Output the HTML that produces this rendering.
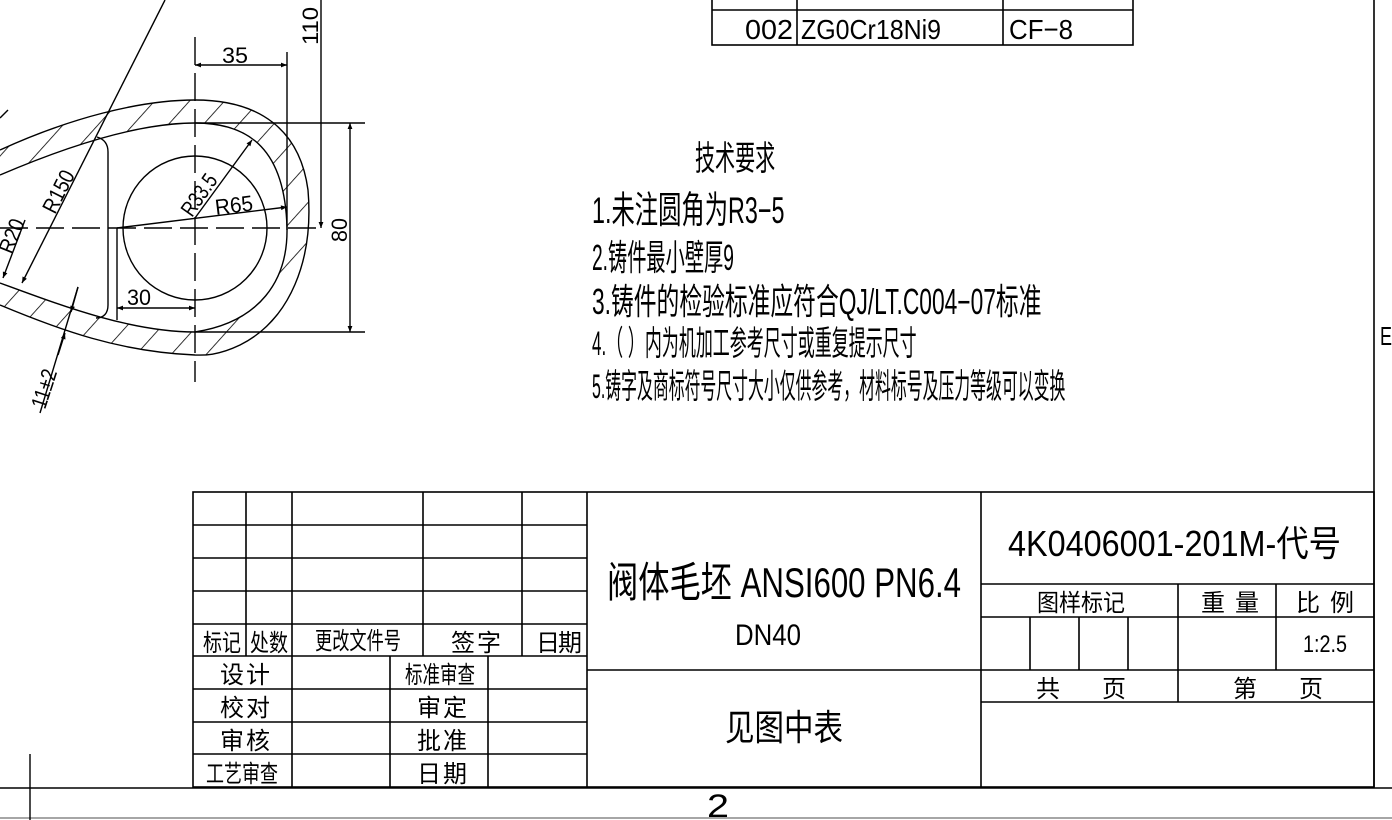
<!DOCTYPE html>
<html><head><meta charset="utf-8"><style>
html,body{margin:0;padding:0;background:#fff;}
svg{display:block;}
text{font-family:"Liberation Sans","Noto Sans CJK SC",sans-serif;fill:#000;}
</style></head><body>
<svg width="1392" height="820" viewBox="0 0 1392 820" xmlns="http://www.w3.org/2000/svg">
<defs>
<pattern id="h" patternUnits="userSpaceOnUse" width="26" height="26" patternTransform="rotate(42)">
<line x1="0" y1="0" x2="0" y2="26" stroke="#000" stroke-width="1.6"/>
</pattern>
<marker id="a" viewBox="0 0 10 10" refX="10" refY="5" markerWidth="14" markerHeight="6" orient="auto-start-reverse" markerUnits="userSpaceOnUse"><path d="M0,1 L10,5 L0,9 z" fill="#000"/></marker>
</defs>
<g fill="none" stroke="#000" stroke-width="1.4">
<path fill="url(#h)" fill-rule="evenodd" stroke="none" d="M0,150 C70,118 140,100 195,100 C260,100 300,130 308,190 C314,260 290,320 240,345 C215,357 200,355 195,355 C120,352 60,330 0,305 Z M0,175 C70,145 140,123 195,123 C250,123 285,150 287,228 C288,280 260,322 195,332 C130,332 60,305 0,283 Z"/>
<path d="M0,150 C70,118 140,100 195,100 C260,100 300,130 308,190 C314,260 290,320 240,345 C215,357 200,355 195,355 C120,352 60,330 0,305"/>
<path d="M0,175 C70,145 140,123 195,123 C250,123 285,150 287,228 C288,280 260,322 195,332 C130,332 60,305 0,283"/>
<path d="M97,137 C104,139 108,144 108,152 L108,305 C108,313 104,318 96,318"/>
<circle cx="195" cy="228" r="72"/>
<line x1="195" y1="37" x2="195" y2="382" stroke-dasharray="28,8"/>
<line x1="0" y1="228" x2="320" y2="228" stroke-dasharray="28,8"/>
<line x1="287" y1="52" x2="287" y2="230"/>
<line x1="195" y1="65" x2="287" y2="65" marker-start="url(#a)" marker-end="url(#a)"/>
<line x1="321" y1="0" x2="321" y2="228" marker-end="url(#a)"/>
<line x1="195" y1="123" x2="365" y2="123"/>
<line x1="195" y1="332" x2="365" y2="332"/>
<line x1="350" y1="123" x2="350" y2="332" marker-start="url(#a)" marker-end="url(#a)"/>
<line x1="117" y1="228" x2="117" y2="320"/>
<line x1="117" y1="308" x2="195" y2="308" marker-start="url(#a)" marker-end="url(#a)"/>
<line x1="117" y1="228" x2="287" y2="207" marker-end="url(#a)"/>
<line x1="195" y1="218" x2="252" y2="140" marker-end="url(#a)"/>
<line x1="165" y1="0" x2="22" y2="283" marker-end="url(#a)"/>
<line x1="25" y1="220" x2="3" y2="278" marker-end="url(#a)"/>
<line x1="8" y1="110" x2="0" y2="118"/>
<line x1="78" y1="287" x2="40" y2="413"/>
<line x1="78" y1="287" x2="71" y2="312" marker-end="url(#a)"/>
<line x1="58" y1="355" x2="65" y2="333" marker-end="url(#a)"/>
</g>
<g font-size="22">
<text x="222" y="63" textLength="26" lengthAdjust="spacingAndGlyphs">35</text>
<text x="127" y="305" textLength="24" lengthAdjust="spacingAndGlyphs">30</text>
<text transform="translate(318,45) rotate(-90)" textLength="38" lengthAdjust="spacingAndGlyphs">110</text>
<text transform="translate(347,242) rotate(-90)" textLength="24" lengthAdjust="spacingAndGlyphs">80</text>
<text transform="translate(216,215) rotate(-7)" textLength="38" lengthAdjust="spacingAndGlyphs">R65</text>
<text transform="translate(192,218) rotate(-55)" textLength="46" lengthAdjust="spacingAndGlyphs">R33.5</text>
<text transform="translate(55,215) rotate(-63)" textLength="45" lengthAdjust="spacingAndGlyphs">R150</text>
<text transform="translate(12,255) rotate(-68)" textLength="35" lengthAdjust="spacingAndGlyphs">R20</text>
<text transform="translate(45,410) rotate(-72)" textLength="40" lengthAdjust="spacingAndGlyphs">11±2</text>
</g>
<g fill="none" stroke="#000" stroke-width="1.6">
<rect x="712" y="-5" width="421" height="50"/>
<line x1="712" y1="10" x2="1133" y2="10"/>
<line x1="797" y1="-5" x2="797" y2="45"/>
<line x1="1003" y1="-5" x2="1003" y2="45"/>
</g>
<g font-size="28">
<text x="745" y="39" textLength="48" lengthAdjust="spacingAndGlyphs">002</text>
<text x="801" y="39" textLength="140" lengthAdjust="spacingAndGlyphs">ZG0Cr18Ni9</text>
<text x="1009" y="39" textLength="64" lengthAdjust="spacingAndGlyphs">CF−8</text>
</g>
<g font-size="34">
<text transform="translate(695,170) scale(0.59,1)">技术要求</text>
<text transform="translate(592,223) scale(0.686,1.1)">1.未注圆角为R3−5</text>
<text transform="translate(592,270) scale(0.565,1.05)">2.铸件最小壁厚9</text>
<text transform="translate(592,314) scale(0.67,1.05)">3.铸件的检验标准应符合QJ/LT.C004−07标准</text>
<text transform="translate(592,355) scale(0.5,1)">4.（ ）内为机加工参考尺寸或重复提示尺寸</text>
<text transform="translate(592,398) scale(0.467,1)">5.铸字及商标符号尺寸大小仅供参考，材料标号及压力等级可以变换</text>
</g>
<line x1="1374" y1="0" x2="1374" y2="787" stroke="#000" stroke-width="1.6"/>
<text x="1380" y="345" font-size="26" textLength="12" lengthAdjust="spacingAndGlyphs">E</text>
<g fill="none" stroke="#000" stroke-width="1.6">
<rect x="193" y="492" width="1181" height="295"/>
<line x1="193" y1="525" x2="587" y2="525"/>
<line x1="193" y1="558" x2="587" y2="558"/>
<line x1="193" y1="591" x2="587" y2="591"/>
<line x1="193" y1="624" x2="587" y2="624"/>
<line x1="193" y1="656" x2="587" y2="656"/>
<line x1="193" y1="689" x2="587" y2="689"/>
<line x1="193" y1="722" x2="587" y2="722"/>
<line x1="193" y1="754" x2="587" y2="754"/>
<line x1="246" y1="492" x2="246" y2="656"/>
<line x1="292" y1="492" x2="292" y2="787"/>
<line x1="423" y1="492" x2="423" y2="656"/>
<line x1="522" y1="492" x2="522" y2="656"/>
<line x1="390" y1="656" x2="390" y2="787"/>
<line x1="488" y1="656" x2="488" y2="787"/>
<line x1="587" y1="492" x2="587" y2="787"/>
<line x1="981" y1="492" x2="981" y2="787"/>
<line x1="587" y1="670" x2="981" y2="670"/>
<line x1="981" y1="584" x2="1374" y2="584"/>
<line x1="981" y1="617" x2="1374" y2="617"/>
<line x1="981" y1="670" x2="1374" y2="670"/>
<line x1="981" y1="702" x2="1374" y2="702"/>
<line x1="1030" y1="617" x2="1030" y2="670"/>
<line x1="1079" y1="617" x2="1079" y2="670"/>
<line x1="1128" y1="617" x2="1128" y2="670"/>
<line x1="1178" y1="584" x2="1178" y2="702"/>
<line x1="1276" y1="584" x2="1276" y2="670"/>
</g>
<g font-size="24">
<text x="203" y="651" textLength="38" lengthAdjust="spacingAndGlyphs">标记</text>
<text x="250" y="651" textLength="38" lengthAdjust="spacingAndGlyphs">处数</text>
<text x="315" y="649" textLength="86" lengthAdjust="spacingAndGlyphs">更改文件号</text>
<text x="451" y="651">签</text><text x="477" y="651">字</text>
<text x="536" y="651">日</text><text x="558" y="651">期</text>
<text x="220" y="683">设</text><text x="246" y="683">计</text>
<text x="220" y="716">校</text><text x="246" y="716">对</text>
<text x="220" y="749">审</text><text x="246" y="749">核</text>
<text x="206" y="782" textLength="72" lengthAdjust="spacingAndGlyphs">工艺审查</text>
<text x="405" y="683" textLength="70" lengthAdjust="spacingAndGlyphs">标准审查</text>
<text x="417" y="716">审</text><text x="443" y="716">定</text>
<text x="417" y="749">批</text><text x="443" y="749">准</text>
<text x="417" y="782">日</text><text x="443" y="782">期</text>
<text x="1037" y="611" textLength="88" lengthAdjust="spacingAndGlyphs">图样标记</text>
<text x="1201" y="611">重</text><text x="1235" y="611">量</text>
<text x="1296" y="611">比</text><text x="1330" y="611">例</text>
<text x="1036" y="697">共</text><text x="1102" y="697">页</text>
<text x="1233" y="697">第</text><text x="1299" y="697">页</text>
<text x="1303" y="652" textLength="44" lengthAdjust="spacingAndGlyphs">1:2.5</text>
</g>
<text x="607" y="597" font-size="42" textLength="354" lengthAdjust="spacingAndGlyphs">阀体毛坯 ANSI600 PN6.4</text>
<text x="735" y="645" font-size="30" textLength="66" lengthAdjust="spacingAndGlyphs">DN40</text>
<text x="725" y="740" font-size="36" textLength="118" lengthAdjust="spacingAndGlyphs">见图中表</text>
<text x="1008" y="556" font-size="36" textLength="333" lengthAdjust="spacingAndGlyphs">4K0406001-201M-代号</text>
<line x1="0" y1="788" x2="1392" y2="788" stroke="#000" stroke-width="1.6"/>
<line x1="0" y1="818" x2="1392" y2="818" stroke="#888" stroke-width="1.4"/>
<line x1="30" y1="754" x2="30" y2="820" stroke="#000" stroke-width="1.4"/>
<text x="707" y="817" font-size="32" textLength="22" lengthAdjust="spacingAndGlyphs">2</text>
</svg>
</body></html>
